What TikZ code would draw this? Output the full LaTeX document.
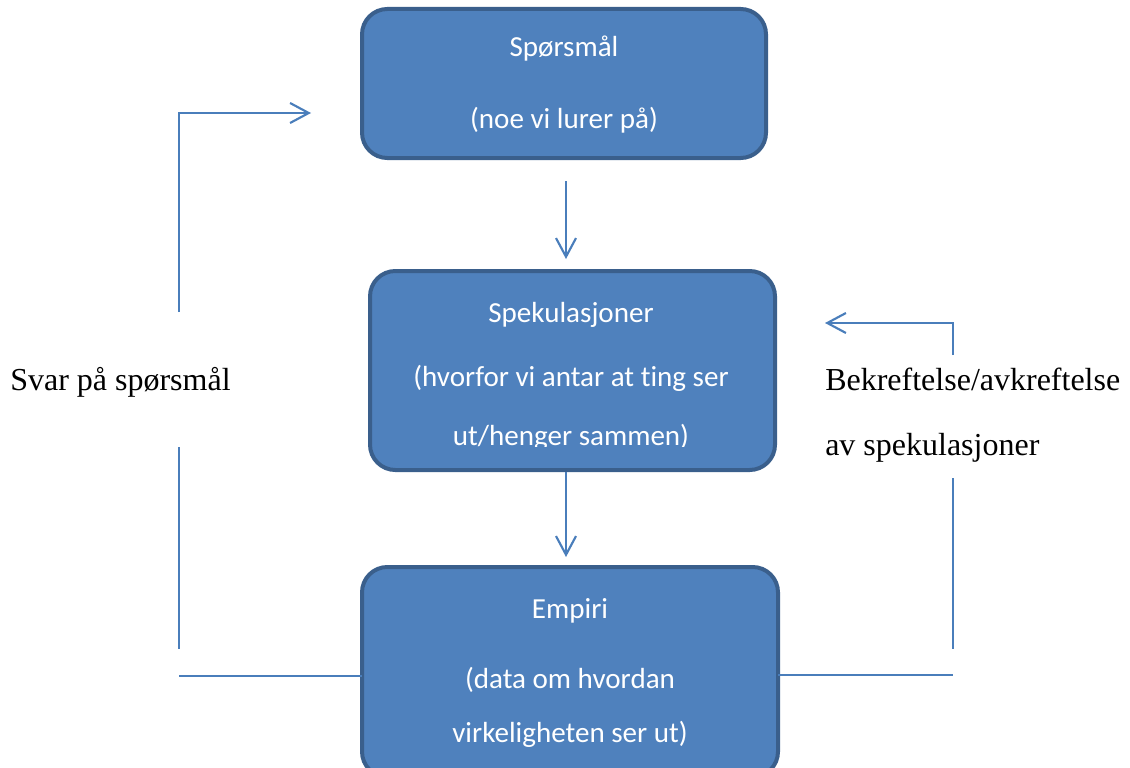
\documentclass[tikz,border=0pt]{standalone}
\usepackage{fontspec}
\setmainfont{Liberation Serif}
\newfontfamily\boxfont[Ligatures=NoCommon]{Carlito}
\usetikzlibrary{arrows.meta}
\definecolor{boxfill}{HTML}{4F81BD}
\definecolor{boxline}{HTML}{3A5F8C}
\definecolor{conn}{HTML}{4A7EBB}
\begin{document}
\begin{tikzpicture}[x=0.75pt,y=-0.75pt,
  boxstyle/.style={draw=boxline, fill=boxfill, line width=3pt, rounded corners=19pt, rectangle, inner sep=0pt},
  boxtext/.style={anchor=base, inner sep=0pt, text=white, font=\boxfont\fontsize{21.8pt}{26pt}\selectfont},
  outtext/.style={anchor=base west, inner sep=0pt, font=\fontsize{24pt}{28pt}\selectfont},
  conline/.style={draw=conn, line width=1.6pt},
  conarrow/.style={conline, -{Straight Barb[length=14pt,width=15pt,line width=1.6pt]}}]
\useasboundingbox (0,0) rectangle (1130,767);
\clip (0,0) rectangle (1130,767);
% boxes
\node[boxstyle, minimum width=303pt, minimum height=111.75pt] (q) at (564,83.5) {};
\node[boxstyle, minimum width=303.75pt, minimum height=149.25pt] (s) at (572.5,370.5) {};
\node[boxstyle, minimum width=312pt, minimum height=157.5pt] (e) at (570,672) {};
% box texts
\node[boxtext] (q1) at (564,57) {Spørsmål};
\node[boxtext] (q2) at (564,128) {(noe vi lurer på)};
\node[boxtext] (s1) at (571,322) {Spekulasjoner};
\node[boxtext] (s2) at (571,386) {(hvorfor vi antar at ting ser};
\begin{scope}
\clip (372,300) rectangle (773,446);
\node[boxtext] (s3) at (571,445) {ut/henger sammen)};
\end{scope}
\node[boxtext] (e1) at (570,618) {Empiri};
\node[boxtext] (e2) at (570,688) {(data om hvordan};
\node[boxtext] (e3) at (570,742) {virkeligheten ser ut)};
% outer texts
\node[outtext] (l1) at (10,390) {Svar på spørsmål};
\node[outtext] (r1) at (825,390) {Bekreftelse/avkreftelse};
\node[outtext] (r2) at (825,455) {av spekulasjoner};
% coordinates
\coordinate (a1s) at (566,181);
\coordinate (a1e) at (566,259);
\coordinate (a2s) at (566,472);
\coordinate (a2e) at (566,557);
\coordinate (lb) at (179,312);
\coordinate (lc) at (179,113);
\coordinate (le) at (311,113);
\coordinate (ld1) at (179,447);
\coordinate (ld2) at (179,649);
\coordinate (lh) at (179,676);
\coordinate (eW) at (362,676);
\coordinate (rb) at (953,355);
\coordinate (rc) at (953,323);
\coordinate (re) at (825,323);
\coordinate (rd1) at (953,478);
\coordinate (rd2) at (953,649);
\coordinate (rh) at (953,675);
\coordinate (eE) at (778,675);
% connectors
\draw[conarrow] (a1s) -- (a1e);
\draw[conarrow] (a2s) -- (a2e);
\draw[conarrow] (lb) -- (lc) -- (le);
\draw[conline] (ld1) -- (ld2);
\draw[conline] (lh) -- (eW);
\draw[conarrow] (rb) -- (rc) -- (re);
\draw[conline] (rd1) -- (rd2);
\draw[conline] (eE) -- (rh);
\end{tikzpicture}
\end{document}
